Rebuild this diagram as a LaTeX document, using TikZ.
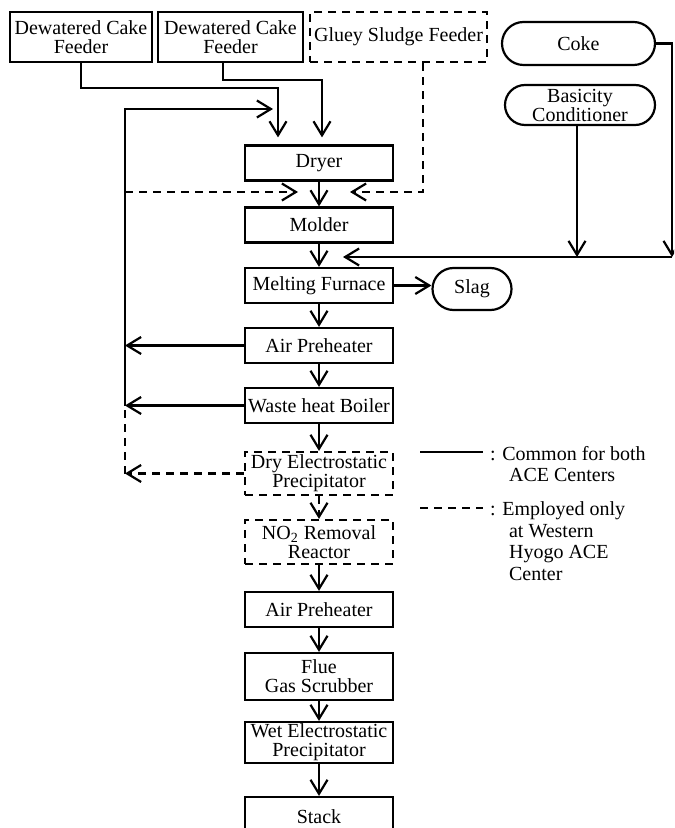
\documentclass[tikz,border=0pt]{standalone}
\usepackage{fontspec}
\setmainfont{Liberation Serif}
\usetikzlibrary{arrows.meta}
\begin{document}
\begin{tikzpicture}[x=0.5pt,y=-0.5pt,line width=1.1pt,
    font=\fontsize{10}{9.5}\selectfont,
    box/.style={draw,rectangle,align=center,inner sep=0pt,minimum width=74pt,minimum height=17.5pt},
    dsh/.style={dash pattern=on 4pt off 3pt},
    dbox/.style={box,dsh},
    pill/.style={draw,rectangle,rounded corners=10pt,align=center,inner sep=0pt},
    flow/.style={-{Straight Barb[length=7pt,width=8.5pt]}},
    legend/.style={anchor=north west,align=left,inner sep=0pt,font=\fontsize{10}{10.7}\selectfont}]
    \useasboundingbox (0,0) rectangle (674,828);
    \clip (0,0) rectangle (674,828);
    \node[box,minimum width=71pt,minimum height=25pt] (fa) at (81,37) {Dewatered Cake\\Feeder};
    \node[box,minimum width=72.5pt,minimum height=25pt] (fb) at (230.5,37) {Dewatered Cake\\Feeder};
    \node[dbox,minimum width=88.5pt,minimum height=25pt] (glue) at (398.5,37) {Gluey Sludge Feeder};
    \node[pill,rounded corners=10.75pt,minimum width=76.5pt,minimum height=21.5pt] (coke) at (578.5,43.5) {Coke};
    \node[pill,minimum width=75pt,minimum height=20pt] (basic) at (580,105) {Basicity\\Conditioner};
    \node[box] (dryer) at (319,163) {Dryer};
    \node[box] (molder) at (319,225) {Molder};
    \node[box] (melt) at (319,285.5) {Melting Furnace};
    \node[pill,rounded corners=10.5pt,minimum width=39.5pt,minimum height=21pt] (slag) at (472,289) {Slag};
    \node[box] (aph1) at (319,345.5) {Air Preheater};
    \node[box] (whb) at (319,405.5) {Waste heat Boiler};
    \node[dbox,minimum height=21.5pt] (desp) at (319,473.5) {Dry Electrostatic\\Precipitator};
    \node[dbox,minimum height=22pt] (no2) at (319,542) {NO\textsubscript{2} Removal\\Reactor};
    \node[box] (aph2) at (319,609.5) {Air Preheater};
    \node[box,minimum height=23.5pt] (flue) at (319,676.5) {Flue\\Gas Scrubber};
    \node[box,minimum height=20.5pt] (wesp) at (319,742.5) {Wet Electrostatic\\Precipitator};
    \node[box,minimum height=20pt] (stack) at (319,817) {Stack};

    \coordinate (ja) at (278,88);
    \coordinate (jb) at (322,80);
    \coordinate (lt) at (125,109);
    \coordinate (lr) at (273,109);
    \coordinate (dl) at (125,192);
    \coordinate (dr) at (298,192);
    \coordinate (gl) at (350,192);
    \coordinate (kc) at (672,257);
    \coordinate (ke) at (343,257);

    \draw[flow,shorten >=3.5pt] (fa.south) |- (ja) -- (ja |- dryer.north);
    \draw[flow,shorten >=3.5pt] ([xshift=-3.75pt]fb.south) |- (jb) -- (jb |- dryer.north);
    \draw[flow] (whb.west -| lt) -- (lt) -- (lr);
    \draw[dsh] (desp.west -| lt) -- (whb.west -| lt);
    \draw[flow,dsh] (dl) -- (dr);
    \draw[flow,dsh] ([xshift=12.25pt]glue.south) |- (gl);
    \draw[flow] (aph1.west) -- (aph1.west -| lt);
    \draw[flow] (whb.west) -- (whb.west -| lt);
    \draw[flow,dsh] (desp.west) -- (desp.west -| lt);
    \draw[flow] (coke.east) -| (kc);
    \draw[flow] ([xshift=-1.5pt]basic.south) -- ([xshift=-1.5pt]basic.south |- kc);
    \draw[flow] (kc) -- (ke);
    \draw[flow] (melt.east) -- (melt.east -| slag.west);
    \foreach \a/\b in {dryer/molder,molder/melt,melt/aph1,aph1/whb,whb/desp,no2/aph2,aph2/flue,flue/wesp,wesp/stack}
        \draw[flow] (\a) -- (\b);
    \draw[flow,dsh] (desp) -- (no2);

    \draw (420,452) -- (483,452);
    \draw[dsh] (420,508) -- (483,508);
    \node[legend] (lga) at (489,445) {: Common for both\\\hspace*{9.5pt}ACE Centers};
    \node[legend] (lgb) at (489,501) {: Employed only\\\hspace*{9.5pt}at Western\\\hspace*{9.5pt}Hyogo ACE\\\hspace*{9.5pt}Center};
\end{tikzpicture}
\end{document}
